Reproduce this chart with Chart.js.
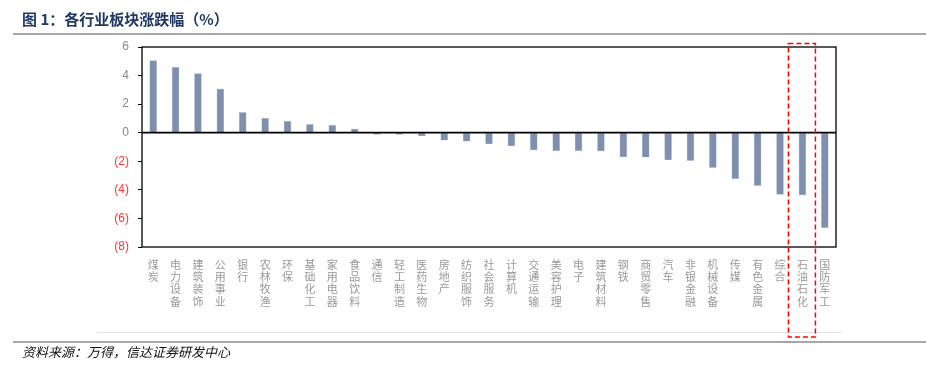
<!DOCTYPE html>
<html>
<head>
<meta charset="utf-8">
<script src="https://cdn.jsdelivr.net/npm/chart.js@4.4.1/dist/chart.umd.min.js"></script>
<style>
  html, body { margin: 0; padding: 0; background: #fff; }
  #wrap { position: relative; width: 926px; height: 370px; overflow: hidden; }
  #chartBox { position: absolute; left: 0; top: 0; width: 926px; height: 370px; }
  #title { position: absolute; left: 22px; top: 9px; font: bold 15px "Noto Sans CJK SC", sans-serif; color: #1f3864; white-space: nowrap; line-height: 20px; }
  #footer { position: absolute; left: 22px; top: 343px; font: italic 13px "Noto Sans CJK SC", sans-serif; color: #111; white-space: nowrap; line-height: 18px; }
  .hline { position: absolute; height: 2px; background: #a6a6a6; }
</style>
</head>
<body>
<div id="wrap">
  <div id="chartBox"><canvas id="c"></canvas></div>
  <div id="title">图 1：各行业板块涨跌幅（%）</div>
  <div class="hline" style="left:13px; top:33px; width:913px;"></div>
  <div class="hline" style="left:13px; top:341px; width:913px;"></div>
  <div id="footer">资料来源：万得，信达证券研发中心</div>
</div>
<script>
const categories = ['煤炭','电力设备','建筑装饰','公用事业','银行','农林牧渔','环保','基础化工','家用电器','食品饮料',
  '通信','轻工制造','医药生物','房地产','纺织服饰','社会服务','计算机','交通运输','美容护理','电子',
  '建筑材料','钢铁','商贸零售','汽车','非银金融','机械设备','传媒','有色金属','综合','石油石化','国防军工'];
const changes = [5.05, 4.58, 4.14, 3.07, 1.42, 1.02, 0.81, 0.58, 0.53, 0.26,
  -0.12, -0.12, -0.23, -0.53, -0.60, -0.79, -0.93, -1.21, -1.26, -1.26,
  -1.29, -1.70, -1.72, -1.91, -1.95, -2.44, -3.23, -3.70, -4.32, -4.37, -6.65];
const yTicks = [6, 4, 2, 0, -2, -4, -6, -8];
const highlighted = ['石油石化'];

const frame = {
  id: 'frame',
  afterDatasetsDraw(chart) {
    const { ctx, chartArea: a, scales: { x, y } } = chart;
    ctx.save();
    ctx.strokeStyle = '#e3e3e3';
    ctx.lineWidth = 1;
    ctx.beginPath();
    ctx.moveTo(97, 332.5); ctx.lineTo(842, 332.5);
    ctx.stroke();
    ctx.strokeStyle = '#000';
    ctx.lineWidth = 1.3;
    ctx.strokeRect(a.left, a.top, a.right - a.left, a.bottom - a.top);
    const y0 = y.getPixelForValue(0);
    ctx.lineWidth = 1.8;
    ctx.beginPath();
    ctx.moveTo(a.left, y0); ctx.lineTo(a.right, y0);
    ctx.stroke();
    highlighted.forEach(name => {
      const i = categories.indexOf(name);
      const cx = x.getPixelForValue(i);
      ctx.strokeStyle = '#ff0000';
      ctx.lineWidth = 1.5;
      ctx.setLineDash([5, 3]);
      ctx.strokeRect(cx - 14, a.top - 3.5, 27, 340.5 - (a.top - 3.5) - 3.5);
    });
    ctx.restore();
  }
};

new Chart(document.getElementById('c'), {
  type: 'bar',
  data: {
    labels: categories.map(s => s.split('')),
    datasets: [{
      data: changes,
      backgroundColor: '#7f8fae',
      borderColor: '#c9d0de',
      borderWidth: 0.6,
      barThickness: 7
    }]
  },
  options: {
    responsive: true,
    maintainAspectRatio: false,
    animation: false,
    layout: { padding: { top: 47, right: 90, left: 0, bottom: 0 } },
    plugins: { legend: { display: false }, tooltip: { enabled: false } },
    scales: {
      x: {
        grid: { display: false },
        border: { display: false },
        afterFit(s) { s.height = 123; },
        ticks: {
          autoSkip: false, maxRotation: 0, minRotation: 0, padding: 4,
          color: '#999999',
          font: { family: '"Noto Sans CJK SC", sans-serif', size: 11, lineHeight: 1.1 }
        }
      },
      y: {
        min: -8, max: 6,
        afterFit(s) { s.width = 142; },
        afterBuildTicks(s) { s.ticks = yTicks.map(v => ({ value: v })); },
        border: { display: false },
        grid: { drawOnChartArea: false, drawTicks: true, tickLength: 4, color: '#000', lineWidth: 1 },
        ticks: {
          padding: 9,
          color: c => (c.tick && c.tick.value < 0) ? '#ff3333' : '#888888',
          font: { family: '"Liberation Sans", sans-serif', size: 12 },
          callback: v => v < 0 ? '(' + Math.abs(v) + ')' : String(v)
        }
      }
    }
  },
  plugins: [frame]
});
</script>
</body>
</html>
